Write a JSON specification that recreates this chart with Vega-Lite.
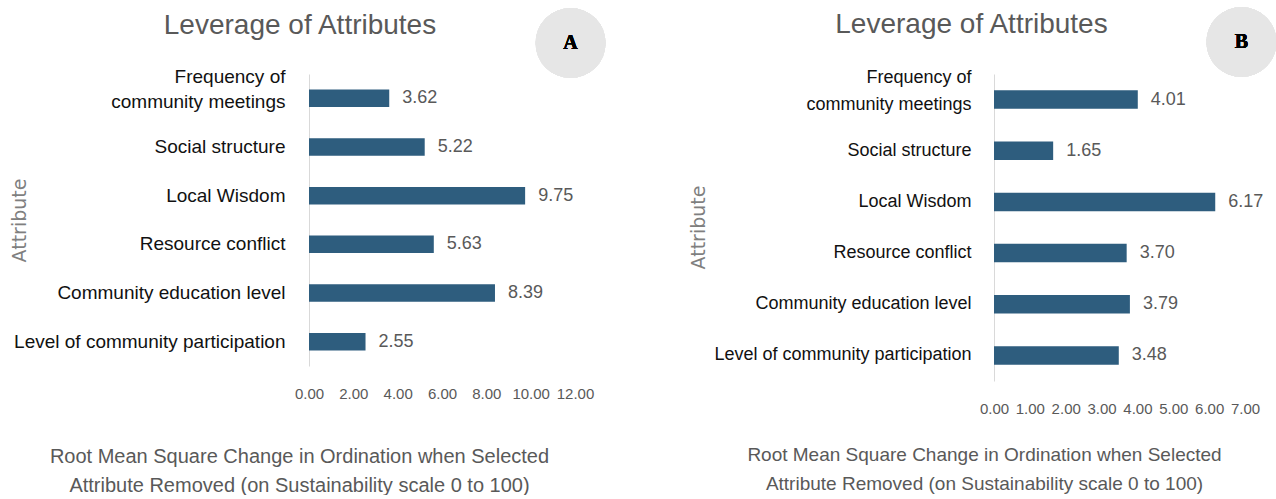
{
  "$schema": "https://vega.github.io/schema/vega-lite/v6.json",
  "background": "white",
  "autosize": {"type": "pad"},
  "padding": {"left": 10, "top": 7, "right": 0, "bottom": 0},
  "bounds": "flush",
  "spacing": 419,
  "config": {"view": {"stroke": null}, "font": "Liberation Sans"},
  "datasets": {
    "A": [
      {"attribute": "Frequency of community meetings", "value": 3.62},
      {"attribute": "Social structure", "value": 5.22},
      {"attribute": "Local Wisdom", "value": 9.75},
      {"attribute": "Resource conflict", "value": 5.63},
      {"attribute": "Community education level", "value": 8.39},
      {"attribute": "Level of community participation", "value": 2.55}
    ],
    "B": [
      {"attribute": "Frequency of community meetings", "value": 4.01},
      {"attribute": "Social structure", "value": 1.65},
      {"attribute": "Local Wisdom", "value": 6.17},
      {"attribute": "Resource conflict", "value": 3.70},
      {"attribute": "Community education level", "value": 3.79},
      {"attribute": "Level of community participation", "value": 3.48}
    ]
  },
  "hconcat": [
    {
      "data": {"name": "A"},
      "width": 266,
      "height": 292,
      "title": {"text": "Leverage of Attributes", "frame": "group", "anchor": "middle", "dx": -142, "offset": -32, "fontSize": 28, "font": "Liberation Sans", "fontWeight": "normal", "color": "#595959"},
      "encoding": {
        "y": {"field": "attribute", "type": "nominal",
          "sort": ["Frequency of community meetings", "Social structure", "Local Wisdom", "Resource conflict", "Community education level", "Level of community participation"],
          "scale": {"paddingInner": 0.64, "paddingOuter": 0.32},
          "axis": {"title": "Attribute", "titleX": -290, "titleY": 146, "titleBaseline": "middle", "titleFont": "DejaVu Sans", "titleFontSize": 19, "titleFontWeight": "normal", "titleColor": "#7f7f7f",
            "labelFont": "Liberation Sans", "labelFontSize": 19, "labelColor": "#111111", "labelPadding": 24, "labelLimit": 400,
            "labelExpr": "datum.label == 'Frequency of community meetings' ? ['Frequency of', 'community meetings'] : datum.label", "labelLineHeight": 25,
            "labelOffset": {"condition": {"test": "datum.value == 'Frequency of community meetings'", "value": -21}, "value": 0},
            "ticks": false, "tickSize": 0, "domainColor": "#d9d9d9", "domainWidth": 1, "grid": false}},
        "x": {"field": "value", "type": "quantitative",
          "scale": {"domain": [0, 12], "nice": false},
          "axis": {"values": [0, 2, 4, 6, 8, 10, 12], "format": ".2f", "labelFont": "Liberation Sans", "labelFontSize": 15, "labelColor": "#595959", "labelPadding": 20, "labelOverlap": false, "labelFlush": false,
            "ticks": false, "tickSize": 0, "domain": false, "grid": false,
            "title": ["Root Mean Square Change in Ordination when Selected", "Attribute Removed (on Sustainability scale 0 to 100)"],
            "titleX": -10, "titleY": 80, "titleBaseline": "top", "titleAlign": "center", "titleLineHeight": 29, "titleFont": "Liberation Sans", "titleFontSize": 20, "titleFontWeight": "normal", "titleColor": "#595959"}}
      },
      "layer": [
        {"mark": {"type": "bar", "color": "#2e5d7e"}},
        {"mark": {"type": "text", "align": "left", "baseline": "middle", "dx": 13, "fontSize": 18, "font": "Liberation Sans", "color": "#595959"},
          "encoding": {"text": {"field": "value", "type": "quantitative", "format": ".2f"}}},
        {"mark": {"type": "point", "filled": true, "size": 4900, "color": "#e6e6e6", "opacity": 1},
          "encoding": {"x": {"datum": 11.8}, "y": {"value": -31}}},
        {"mark": {"type": "text", "text": "A", "font": "Liberation Serif", "fontWeight": "bold", "fontSize": 20, "color": "#000000", "baseline": "middle", "align": "center"},
          "encoding": {"x": {"datum": 11.8}, "y": {"value": -31}}}
      ]
    },
    {
      "data": {"name": "B"},
      "width": 251,
      "height": 307,
      "title": {"text": "Leverage of Attributes", "frame": "group", "anchor": "middle", "dx": -148, "offset": -32, "fontSize": 28, "font": "Liberation Sans", "fontWeight": "normal", "color": "#595959"},
      "encoding": {
        "y": {"field": "attribute", "type": "nominal",
          "sort": ["Frequency of community meetings", "Social structure", "Local Wisdom", "Resource conflict", "Community education level", "Level of community participation"],
          "scale": {"paddingInner": 0.64, "paddingOuter": 0.32},
          "axis": {"title": "Attribute", "titleX": -296, "titleY": 153, "titleBaseline": "middle", "titleFont": "DejaVu Sans", "titleFontSize": 19, "titleFontWeight": "normal", "titleColor": "#7f7f7f",
            "labelFont": "Liberation Sans", "labelFontSize": 18, "labelColor": "#111111", "labelPadding": 23, "labelLimit": 400,
            "labelExpr": "datum.label == 'Frequency of community meetings' ? ['Frequency of', 'community meetings'] : datum.label", "labelLineHeight": 27,
            "labelOffset": {"condition": {"test": "datum.value == 'Frequency of community meetings'", "value": -22}, "value": 0},
            "ticks": false, "tickSize": 0, "domainColor": "#d9d9d9", "domainWidth": 1, "grid": false}},
        "x": {"field": "value", "type": "quantitative",
          "scale": {"domain": [0, 7], "nice": false},
          "axis": {"values": [0, 1, 2, 3, 4, 5, 6, 7], "format": ".2f", "labelFont": "Liberation Sans", "labelFontSize": 15, "labelColor": "#595959", "labelPadding": 20, "labelOverlap": false, "labelFlush": false,
            "ticks": false, "tickSize": 0, "domain": false, "grid": false,
            "title": ["Root Mean Square Change in Ordination when Selected", "Attribute Removed (on Sustainability scale 0 to 100)"],
            "titleX": -10, "titleY": 64, "titleBaseline": "top", "titleAlign": "center", "titleLineHeight": 29, "titleFont": "Liberation Sans", "titleFontSize": 19, "titleFontWeight": "normal", "titleColor": "#595959"}}
      },
      "layer": [
        {"mark": {"type": "bar", "color": "#2e5d7e"}},
        {"mark": {"type": "text", "align": "left", "baseline": "middle", "dx": 13, "fontSize": 18, "font": "Liberation Sans", "color": "#595959"},
          "encoding": {"text": {"field": "value", "type": "quantitative", "format": ".2f"}}},
        {"mark": {"type": "point", "filled": true, "size": 4900, "color": "#e6e6e6", "opacity": 1},
          "encoding": {"x": {"datum": 6.9}, "y": {"value": -32}}},
        {"mark": {"type": "text", "text": "B", "font": "Liberation Serif", "fontWeight": "bold", "fontSize": 20, "color": "#000000", "baseline": "middle", "align": "center"},
          "encoding": {"x": {"datum": 6.9}, "y": {"value": -32}}}
      ]
    }
  ]
}
